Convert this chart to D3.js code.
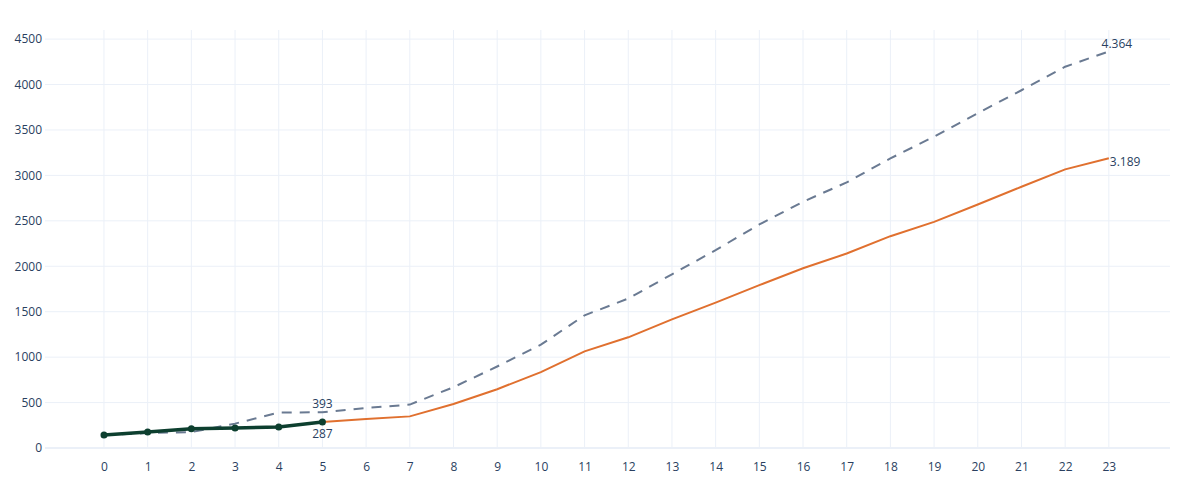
<!DOCTYPE html>
<html>
<head>
<meta charset="utf-8">
<script src="https://cdn.jsdelivr.net/npm/d3@7"></script>
<style>
  body { margin: 0; background: #fff; }
  text { font-family: "Open Sans", "Liberation Sans", sans-serif; fill: #2a3f5f; }
</style>
</head>
<body>
<div id="chart"></div>
<script>
// data
var days = d3.range(0, 24);
var scenario = [140, 165, 175, 268, 390, 393, 440, 478, 669, 897, 1137, 1460, 1645, 1911, 2178, 2460,
  2710, 2923, 3187, 3426, 3685, 3937, 4196, 4364];
var forecastDays = d3.range(5, 24);
var forecast = [287, 320, 348, 485, 647, 835, 1063, 1218, 1415, 1600, 1792,
  1978, 2140, 2331, 2489, 2680, 2875, 3066, 3189];
var actualDays = [0, 1, 2, 3, 4, 5];
var actual = [143, 176, 213, 221, 232, 287];
var yTicks = [0, 500, 1000, 1500, 2000, 2500, 3000, 3500, 4000, 4500];

var width = 1200;
var height = 500;
var margin = { left: 45, right: 30, top: 30, bottom: 52 };

var svg = d3.select("#chart").append("svg")
  .attr("width", width).attr("height", height);

var x = d3.scaleLinear().domain([-1.35, 24.4]).range([margin.left, width - margin.right]);
var y = d3.scaleLinear().domain([0, 4600]).range([height - margin.bottom, margin.top]);

function drawGrid(svg) {
  svg.append("g").selectAll("line").data(days).enter().append("line")
    .attr("x1", function(d) { return x(d); })
    .attr("x2", function(d) { return x(d); })
    .attr("y1", y(0)).attr("y2", margin.top)
    .style("stroke", "#ebf0f8").style("stroke-width", 1);

  svg.append("g").selectAll("line").data(yTicks.slice(1)).enter().append("line")
    .attr("x1", margin.left).attr("x2", width - margin.right)
    .attr("y1", function(d) { return y(d); })
    .attr("y2", function(d) { return y(d); })
    .style("stroke", "#ebf0f8").style("stroke-width", 1);

  // zero line
  svg.append("line")
    .attr("x1", margin.left).attr("x2", width - margin.right)
    .attr("y1", y(0)).attr("y2", y(0))
    .style("stroke", "#ebf0f8").style("stroke-width", 2);
}

function drawAxes(svg) {
  var xAxis = d3.axisBottom(x).tickValues(days).tickSize(0).tickPadding(14);
  var gx = svg.append("g").attr("transform", "translate(0," + y(0) + ")").call(xAxis);
  gx.select(".domain").remove();
  gx.selectAll("text").style("font-size", "12px").style("fill", "#2a3f5f");

  var yAxis = d3.axisLeft(y).tickValues(yTicks).tickFormat(d3.format("d")).tickSize(0).tickPadding(3);
  var gy = svg.append("g").attr("transform", "translate(" + margin.left + ",0)").call(yAxis);
  gy.select(".domain").remove();
  gy.selectAll("text").style("font-size", "12px").style("fill", "#2a3f5f");
}

function drawLines(svg) {
  var line = d3.line()
    .x(function(d) { return x(d[0]); })
    .y(function(d) { return y(d[1]); });

  svg.append("path")
    .datum(d3.zip(days, scenario))
    .attr("d", line)
    .style("fill", "none").style("stroke", "#6a7a92").style("stroke-width", 2)
    .style("stroke-dasharray", "10,8");

  svg.append("path")
    .datum(d3.zip(forecastDays, forecast))
    .attr("d", line)
    .style("fill", "none").style("stroke", "#e0702f").style("stroke-width", 2);

  svg.append("path")
    .datum(d3.zip(actualDays, actual))
    .attr("d", line)
    .style("fill", "none").style("stroke", "#0d3f2f").style("stroke-width", 3.5);

  svg.append("g").selectAll("circle").data(d3.zip(actualDays, actual)).enter().append("circle")
    .attr("cx", function(d) { return x(d[0]); })
    .attr("cy", function(d) { return y(d[1]); })
    .attr("r", 3.5)
    .style("fill", "#0d3f2f");
}

function drawLabels(svg) {
  var last = days.length - 1;
  svg.append("text")
    .attr("x", x(5)).attr("y", y(scenario[5]) - 4)
    .attr("text-anchor", "middle").style("font-size", "12px")
    .text(scenario[5]);
  svg.append("text")
    .attr("x", x(5)).attr("y", y(actual[5]) + 16)
    .attr("text-anchor", "middle").style("font-size", "12px")
    .text(actual[5]);
  svg.append("text")
    .attr("x", x(days[last]) + 8).attr("y", y(scenario[last]) - 3)
    .attr("text-anchor", "middle").style("font-size", "12px")
    .text(d3.format(",")(scenario[last]).replace(",", "."));
  svg.append("text")
    .attr("x", x(days[last]) + 1).attr("y", y(forecast[forecast.length - 1]) + 8)
    .attr("text-anchor", "start").style("font-size", "12px")
    .text(d3.format(",")(forecast[forecast.length - 1]).replace(",", "."));
}

drawGrid(svg);
drawAxes(svg);
drawLines(svg);
drawLabels(svg);
</script>
</body>
</html>
